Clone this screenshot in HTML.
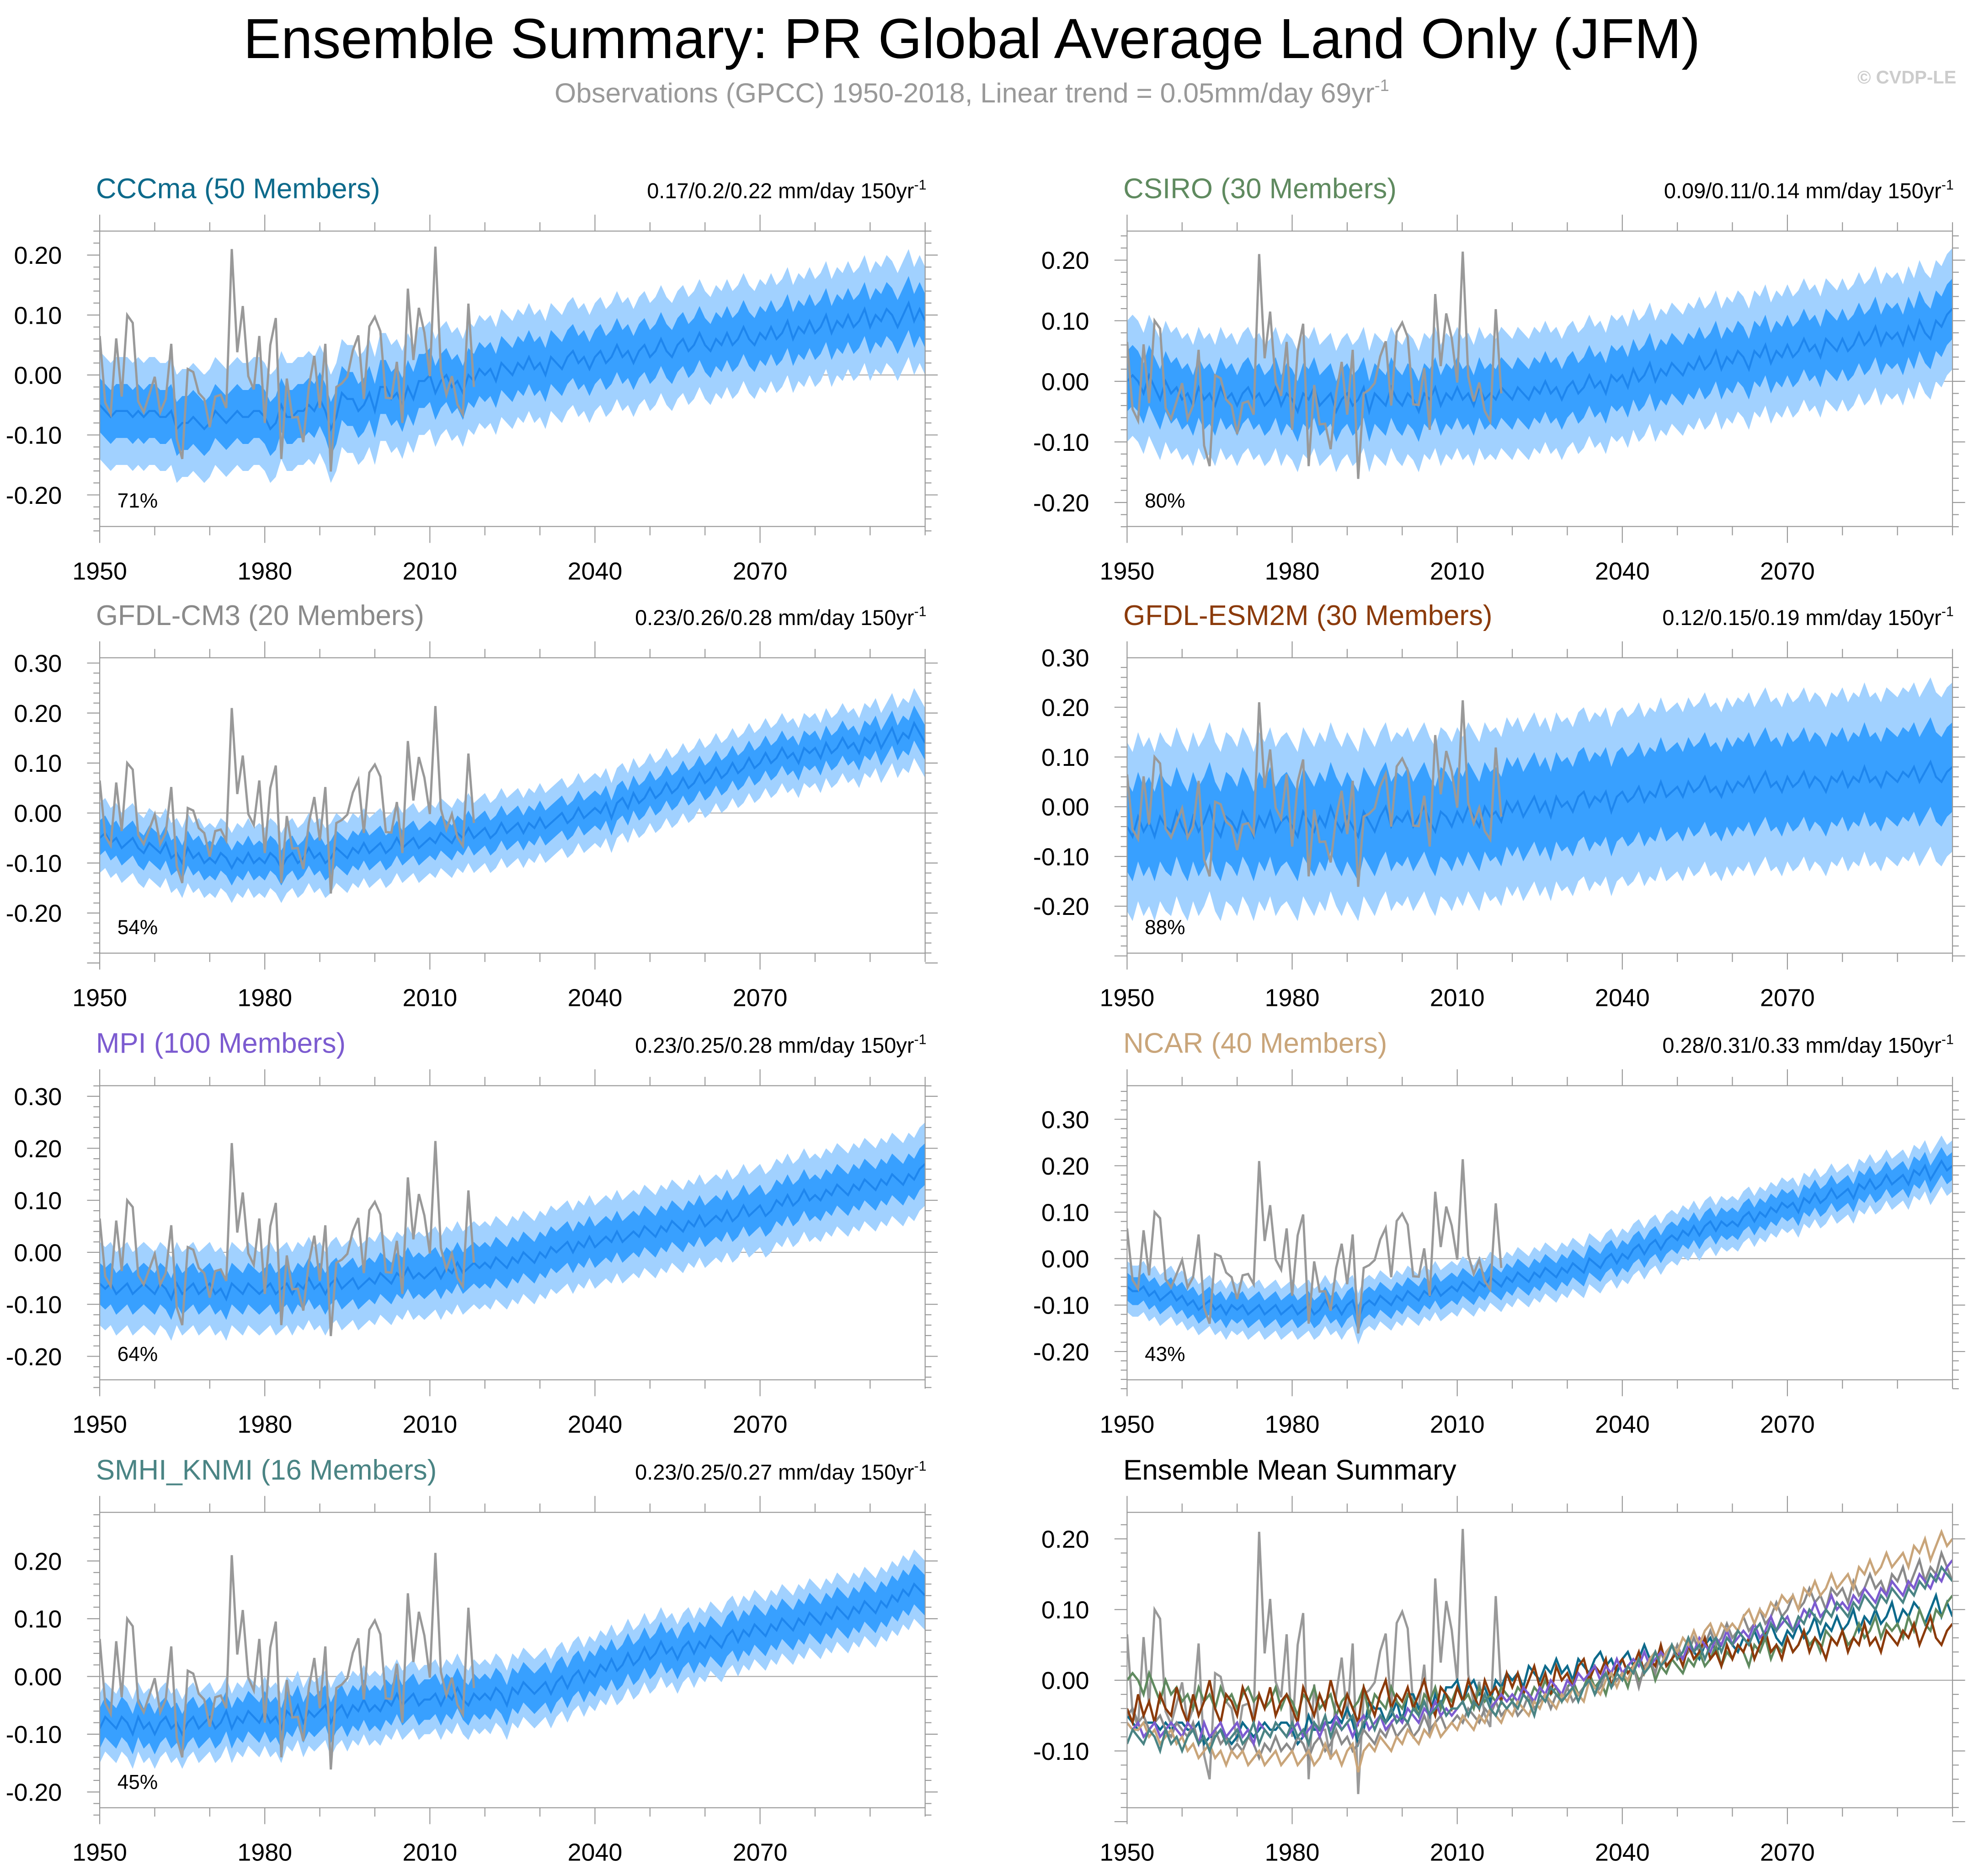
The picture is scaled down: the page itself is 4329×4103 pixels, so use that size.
<!DOCTYPE html>
<html><head><meta charset="utf-8"><title>Ensemble Summary</title>
<style>html,body{margin:0;padding:0;background:#fff}svg{display:block}text{font-family:"Liberation Sans",sans-serif}</style>
</head><body>
<svg id="fig" xmlns="http://www.w3.org/2000/svg" width="4329" height="4103" viewBox="0 0 1568 1486">
<rect x="0" y="0" width="1568" height="1486" fill="#fff"/>
<text x="770" y="46" font-size="44.8" text-anchor="middle" fill="#000">Ensemble Summary: PR Global Average Land Only (JFM)</text>
<text x="770" y="81" font-size="22" text-anchor="middle" fill="#999">Observations (GPCC) 1950-2018, Linear trend = 0.05mm/day 69yr<tspan font-size="13" dy="-9">-1</tspan></text>
<text x="1550" y="66" font-size="14.5" text-anchor="end" fill="#ccc" font-weight="bold">© CVDP-LE</text>
<g id="plots"></g>
</svg>
<script>
const years0 = 1950;
const obsVals = [0.065,-0.046,-0.065,0.061,-0.036,0.10,0.087,-0.044,-0.062,-0.033,-0.003,-0.062,-0.04,0.052,-0.106,-0.14,0.01,0.005,-0.03,-0.04,-0.087,-0.036,-0.033,-0.055,0.21,0.038,0.115,-0.002,-0.024,0.065,-0.08,0.05,0.095,-0.14,-0.006,-0.071,-0.07,-0.112,-0.02,0.032,-0.055,0.052,-0.161,-0.02,-0.014,-0.003,0.041,0.066,-0.04,0.081,0.097,0.073,-0.038,-0.039,0.022,-0.08,0.144,0.025,0.112,0.071,-0.002,0.214,0.008,-0.033,-0.002,-0.049,-0.066,0.119,-0.02];
const meanCCCma = [-0.05,-0.06,-0.07,-0.06,-0.06,-0.06,-0.07,-0.06,-0.07,-0.06,-0.06,-0.07,-0.07,-0.06,-0.09,-0.08,-0.08,-0.07,-0.08,-0.09,-0.08,-0.06,-0.07,-0.08,-0.07,-0.06,-0.07,-0.07,-0.06,-0.06,-0.07,-0.09,-0.08,-0.05,-0.07,-0.07,-0.06,-0.06,-0.05,-0.06,-0.04,-0.06,-0.09,-0.07,-0.03,-0.04,-0.04,-0.06,-0.05,-0.03,-0.06,-0.02,-0.02,-0.04,-0.03,-0.05,-0.02,-0.04,-0.01,-0.01,0.00,-0.03,-0.01,0.00,-0.02,-0.01,-0.03,0.00,-0.01,0.01,0.00,0.01,-0.01,0.02,0.01,0.00,0.02,0.01,0.03,0.01,0.02,0.00,0.03,0.02,0.01,0.03,0.04,0.02,0.03,0.01,0.03,0.04,0.02,0.03,0.05,0.03,0.04,0.02,0.04,0.05,0.03,0.04,0.06,0.04,0.03,0.05,0.06,0.04,0.05,0.07,0.05,0.04,0.06,0.05,0.07,0.05,0.06,0.08,0.06,0.05,0.07,0.06,0.08,0.06,0.07,0.09,0.06,0.08,0.07,0.09,0.07,0.08,0.10,0.07,0.09,0.08,0.10,0.08,0.09,0.11,0.08,0.10,0.09,0.11,0.10,0.08,0.10,0.12,0.09,0.11,0.09];
const meanCSIRO = [0.00,0.01,0.00,-0.02,0.01,-0.01,-0.03,0.00,-0.02,-0.01,-0.03,-0.02,-0.04,-0.01,-0.03,-0.02,-0.04,-0.01,-0.03,-0.02,-0.04,-0.02,-0.01,-0.03,-0.02,-0.04,-0.03,-0.01,-0.04,-0.02,-0.03,-0.05,-0.02,-0.03,-0.01,-0.04,-0.03,-0.02,-0.05,-0.03,-0.02,-0.04,-0.03,-0.01,-0.05,-0.02,-0.03,-0.04,-0.01,-0.03,-0.04,-0.02,-0.03,-0.05,-0.02,-0.03,-0.01,-0.04,-0.02,-0.03,-0.01,-0.03,-0.02,-0.04,-0.01,-0.03,-0.02,-0.03,-0.01,-0.02,-0.03,-0.01,-0.02,-0.03,-0.01,-0.02,0.00,-0.02,-0.01,-0.03,-0.01,0.00,-0.02,-0.01,0.01,-0.01,0.00,-0.02,0.01,0.00,0.01,-0.01,0.02,0.00,0.01,0.03,0.00,0.02,0.01,0.03,0.02,0.01,0.03,0.02,0.04,0.02,0.03,0.05,0.02,0.04,0.03,0.05,0.04,0.02,0.05,0.04,0.06,0.03,0.05,0.04,0.06,0.04,0.05,0.07,0.05,0.06,0.04,0.07,0.06,0.05,0.07,0.05,0.06,0.08,0.06,0.07,0.09,0.06,0.08,0.07,0.08,0.06,0.09,0.07,0.10,0.08,0.07,0.10,0.09,0.11,0.12];
const meanGFDLCM3 = [-0.05,-0.04,-0.06,-0.05,-0.07,-0.06,-0.05,-0.07,-0.08,-0.06,-0.07,-0.08,-0.06,-0.09,-0.08,-0.10,-0.07,-0.09,-0.08,-0.10,-0.09,-0.10,-0.08,-0.09,-0.11,-0.09,-0.10,-0.08,-0.10,-0.09,-0.10,-0.08,-0.09,-0.11,-0.09,-0.08,-0.10,-0.09,-0.07,-0.09,-0.08,-0.10,-0.09,-0.07,-0.08,-0.09,-0.07,-0.08,-0.06,-0.08,-0.07,-0.06,-0.08,-0.07,-0.05,-0.07,-0.06,-0.05,-0.07,-0.06,-0.05,-0.06,-0.04,-0.05,-0.06,-0.04,-0.05,-0.03,-0.05,-0.04,-0.03,-0.05,-0.04,-0.02,-0.04,-0.03,-0.02,-0.04,-0.02,-0.03,-0.01,-0.03,-0.02,-0.01,0.00,-0.02,-0.01,0.01,-0.01,0.00,0.01,0.00,0.02,-0.01,0.02,0.03,0.01,0.04,0.02,0.03,0.05,0.03,0.04,0.06,0.04,0.05,0.07,0.05,0.06,0.08,0.06,0.07,0.09,0.07,0.08,0.10,0.08,0.09,0.11,0.09,0.10,0.12,0.10,0.11,0.13,0.11,0.12,0.10,0.13,0.12,0.13,0.11,0.14,0.12,0.13,0.15,0.13,0.14,0.12,0.15,0.14,0.16,0.13,0.15,0.17,0.14,0.16,0.15,0.18,0.16,0.14];
const meanGFDLESM2M = [-0.04,-0.06,-0.02,-0.05,-0.03,-0.06,-0.02,-0.04,-0.05,-0.01,-0.04,-0.06,-0.02,-0.05,-0.03,0.00,-0.04,-0.06,-0.02,-0.03,-0.05,-0.01,-0.03,-0.06,-0.02,-0.04,-0.01,-0.05,-0.03,-0.02,-0.04,-0.06,-0.01,-0.03,-0.05,-0.02,-0.04,0.00,-0.03,-0.05,-0.02,-0.04,-0.06,-0.01,-0.03,-0.05,-0.02,0.00,-0.04,-0.02,-0.03,-0.01,-0.04,-0.02,0.00,-0.03,-0.05,-0.01,-0.02,-0.04,-0.01,-0.03,0.00,-0.02,-0.04,0.00,-0.02,-0.01,-0.03,0.01,-0.01,0.01,-0.02,0.00,0.02,-0.01,0.01,-0.02,0.02,0.00,0.01,-0.01,0.02,0.03,0.00,0.02,0.01,0.03,-0.01,0.02,0.03,0.01,0.02,0.04,0.01,0.03,0.02,0.05,0.02,0.03,0.04,0.02,0.05,0.03,0.04,0.06,0.03,0.04,0.02,0.05,0.03,0.05,0.04,0.06,0.03,0.05,0.07,0.04,0.05,0.03,0.06,0.04,0.05,0.07,0.04,0.06,0.05,0.03,0.06,0.05,0.07,0.04,0.06,0.05,0.08,0.05,0.06,0.04,0.07,0.06,0.05,0.07,0.06,0.08,0.05,0.07,0.09,0.06,0.05,0.07,0.08];
const meanMPI = [-0.06,-0.07,-0.06,-0.08,-0.07,-0.06,-0.08,-0.07,-0.06,-0.07,-0.08,-0.06,-0.07,-0.09,-0.06,-0.08,-0.07,-0.06,-0.08,-0.07,-0.06,-0.08,-0.07,-0.09,-0.06,-0.07,-0.08,-0.06,-0.07,-0.08,-0.07,-0.06,-0.08,-0.07,-0.06,-0.08,-0.06,-0.07,-0.05,-0.07,-0.06,-0.08,-0.06,-0.05,-0.07,-0.06,-0.05,-0.07,-0.06,-0.05,-0.06,-0.04,-0.05,-0.06,-0.04,-0.05,-0.03,-0.05,-0.04,-0.05,-0.04,-0.03,-0.05,-0.03,-0.04,-0.02,-0.04,-0.03,-0.02,-0.03,-0.02,-0.03,-0.01,-0.02,-0.03,-0.01,-0.02,0.00,-0.01,-0.02,0.00,-0.01,0.01,0.00,0.01,0.02,0.00,0.02,0.01,0.03,0.01,0.02,0.03,0.02,0.04,0.02,0.03,0.04,0.03,0.05,0.04,0.03,0.05,0.04,0.06,0.05,0.04,0.06,0.05,0.07,0.05,0.06,0.07,0.06,0.08,0.06,0.07,0.09,0.07,0.08,0.09,0.07,0.08,0.10,0.09,0.11,0.09,0.10,0.12,0.10,0.11,0.10,0.12,0.11,0.13,0.12,0.11,0.13,0.12,0.14,0.13,0.12,0.14,0.13,0.15,0.14,0.13,0.15,0.14,0.16,0.17];
const meanNCAR = [-0.06,-0.07,-0.07,-0.06,-0.08,-0.07,-0.09,-0.08,-0.07,-0.09,-0.08,-0.10,-0.09,-0.11,-0.10,-0.09,-0.11,-0.10,-0.12,-0.10,-0.11,-0.10,-0.12,-0.11,-0.10,-0.12,-0.11,-0.10,-0.12,-0.11,-0.10,-0.12,-0.11,-0.10,-0.12,-0.11,-0.09,-0.11,-0.10,-0.12,-0.10,-0.09,-0.13,-0.10,-0.09,-0.10,-0.08,-0.09,-0.10,-0.08,-0.09,-0.07,-0.08,-0.09,-0.07,-0.08,-0.06,-0.08,-0.07,-0.06,-0.07,-0.05,-0.06,-0.07,-0.05,-0.06,-0.04,-0.05,-0.06,-0.04,-0.05,-0.03,-0.04,-0.05,-0.03,-0.04,-0.02,-0.03,-0.04,-0.02,-0.03,-0.01,-0.02,-0.03,0.00,-0.01,-0.02,0.00,0.01,-0.01,0.01,0.00,0.02,0.03,0.01,0.03,0.04,0.02,0.04,0.05,0.04,0.06,0.05,0.07,0.05,0.07,0.08,0.06,0.08,0.07,0.08,0.07,0.09,0.10,0.08,0.10,0.09,0.11,0.10,0.12,0.11,0.12,0.10,0.13,0.12,0.14,0.12,0.13,0.15,0.13,0.14,0.15,0.13,0.16,0.15,0.17,0.15,0.16,0.18,0.16,0.17,0.18,0.16,0.19,0.18,0.20,0.17,0.19,0.21,0.19,0.20];
const meanSMHI = [-0.09,-0.07,-0.08,-0.09,-0.07,-0.08,-0.10,-0.07,-0.09,-0.08,-0.10,-0.08,-0.07,-0.09,-0.08,-0.10,-0.08,-0.07,-0.09,-0.08,-0.07,-0.09,-0.08,-0.06,-0.09,-0.07,-0.08,-0.06,-0.07,-0.08,-0.06,-0.08,-0.07,-0.09,-0.06,-0.07,-0.05,-0.08,-0.06,-0.07,-0.06,-0.05,-0.08,-0.06,-0.05,-0.07,-0.05,-0.06,-0.04,-0.06,-0.05,-0.06,-0.04,-0.05,-0.03,-0.05,-0.04,-0.03,-0.05,-0.04,-0.04,-0.03,-0.05,-0.03,-0.04,-0.02,-0.04,-0.05,-0.03,-0.04,-0.03,-0.04,-0.02,-0.03,-0.05,-0.02,-0.03,-0.01,-0.02,-0.03,-0.02,-0.01,-0.03,-0.01,0.00,-0.02,0.00,0.01,-0.01,0.01,0.00,0.02,0.01,0.03,0.01,0.02,0.04,0.02,0.03,0.05,0.03,0.04,0.06,0.04,0.05,0.03,0.05,0.06,0.04,0.06,0.05,0.07,0.06,0.05,0.07,0.08,0.06,0.08,0.07,0.09,0.08,0.07,0.09,0.08,0.10,0.09,0.08,0.10,0.09,0.11,0.10,0.09,0.11,0.10,0.12,0.11,0.10,0.12,0.11,0.13,0.12,0.11,0.13,0.12,0.14,0.13,0.15,0.14,0.16,0.15,0.14];
const modelNames = ["CCCma (50 Members)","CSIRO (30 Members)","GFDL-CM3 (20 Members)","GFDL-ESM2M (30 Members)","MPI (100 Members)","NCAR (40 Members)","SMHI_KNMI (16 Members)"];
const trendLabels = ["0.17/0.2/0.22","0.09/0.11/0.14","0.23/0.26/0.28","0.12/0.15/0.19","0.23/0.25/0.28","0.28/0.31/0.33","0.23/0.25/0.27"];
const pctLabels = ["71%","80%","54%","88%","64%","43%","45%"];
const innerSpread = [0.045,0.05,0.035,0.09,0.04,0.03,0.035];
const outerSpread = [0.09,0.10,0.07,0.17,0.08,0.055,0.06];
const xTickYears = [1950,1980,2010,2040,2070];
const allMeans = [meanCCCma,meanCSIRO,meanGFDLCM3,meanGFDLESM2M,meanMPI,meanNCAR,meanSMHI];

// layout (styling, not data)
const titleColors = ["#0d6a8b","#5f8a5f","#8a8a8a","#8b3a0a","#7c5bd0","#c9a57a","#4a8484"];
const lineColors = ["#0d6a8b","#5f8a5f","#8a8a8a","#8b3a0a","#7c5bd0","#c9a57a","#4a8484"];
const panels = [
 {x0:79,x1:733,y0:183,y1:417,zero:297,p01:47.5,ticks:[-0.2,-0.1,0,0.1,0.2]},
 {x0:893,x1:1547,y0:183,y1:417,zero:302,p01:48,ticks:[-0.2,-0.1,0,0.1,0.2]},
 {x0:79,x1:733,y0:521,y1:755,zero:644,p01:39.6,ticks:[-0.2,-0.1,0,0.1,0.2,0.3]},
 {x0:893,x1:1547,y0:521,y1:755,zero:639,p01:39.4,ticks:[-0.2,-0.1,0,0.1,0.2,0.3]},
 {x0:79,x1:733,y0:860,y1:1093,zero:992,p01:41.2,ticks:[-0.2,-0.1,0,0.1,0.2,0.3]},
 {x0:893,x1:1547,y0:860,y1:1093,zero:997,p01:36.8,ticks:[-0.2,-0.1,0,0.1,0.2,0.3]},
 {x0:79,x1:733,y0:1198,y1:1432,zero:1328,p01:45.75,ticks:[-0.2,-0.1,0,0.1,0.2]},
 {x0:893,x1:1547,y0:1198,y1:1432,zero:1331,p01:56,ticks:[-0.1,0,0.1,0.2]}
];
const NS="http://www.w3.org/2000/svg";
const root=document.getElementById('plots');
function mk(tag,attrs,parent){const e=document.createElementNS(NS,tag);for(const k in attrs)e.setAttribute(k,attrs[k]);(parent||root).appendChild(e);return e;}
function fmt(v){return (v<0?"-":"")+Math.abs(v).toFixed(2);}

panels.forEach((P,pi)=>{
  const g=mk('g',{});
  
  
  const X=yr=>P.x0+(yr-1950)*(P.x1-P.x0)/150;
  const Y=v=>P.zero-v*P.p01*10;
  const cid='clip'+pi;
  const cp=mk('clipPath',{id:cid},g);mk('rect',{x:P.x0,y:P.y0,width:P.x1-P.x0,height:P.y1-P.y0},cp);
  const plot=mk('g',{'clip-path':'url(#'+cid+')'},g);
  
  
  const zl=mk('line',{x1:P.x0,x2:P.x1,y1:Y(0),y2:Y(0),stroke:'#aaa','stroke-width':0.8},plot);
  
  
  const band=(arr,s)=>{let up=[],dn=[];arr.forEach((v,i)=>{up.push(X(1950+i).toFixed(2)+','+Y(v+s).toFixed(2));});for(let i=arr.length-1;i>=0;i--)dn.push(X(1950+i).toFixed(2)+','+Y(arr[i]-s).toFixed(2));return up.concat(dn).join(' ');};
  const line=(arr)=>arr.map((v,i)=>X(1950+i).toFixed(2)+','+Y(v).toFixed(2)).join(' ');
  if(pi<7){
    const m=allMeans[pi];
    const ob=mk('polygon',{points:band(m,outerSpread[pi]),fill:'#a1d1ff'},plot);
    
    
    const ib=mk('polygon',{points:band(m,innerSpread[pi]),fill:'#38a0ff'},plot);
    
    
    const ml=mk('polyline',{points:line(m),fill:'none',stroke:'#1e86ee','stroke-width':1.6},plot);
    
    
    const ol=mk('polyline',{points:line(obsVals),fill:'none',stroke:'#999','stroke-width':1.8},plot);
    
    
  } else {
    const ol=mk('polyline',{points:line(obsVals),fill:'none',stroke:'#999','stroke-width':1.8},plot);
    
    
    allMeans.forEach((m,k)=>{
      const l=mk('polyline',{points:line(m),fill:'none',stroke:lineColors[k],'stroke-width':1.8},plot);
      
      
    });
  }
  const fr=mk('rect',{x:P.x0,y:P.y0,width:P.x1-P.x0,height:P.y1-P.y0,fill:'none',stroke:'#999','stroke-width':0.8},g);
  
  
  for(let yr=1950;yr<=2100;yr+=10){
    const major=xTickYears.includes(yr);const L=major?13:7;const x=X(yr);
    mk('line',{x1:x,x2:x,y1:P.y1,y2:P.y1+L,stroke:'#999','stroke-width':0.8},g);
    mk('line',{x1:x,x2:x,y1:P.y0,y2:P.y0-L,stroke:'#999','stroke-width':0.8},g);
  }
  xTickYears.forEach(yr=>{
    const t=mk('text',{x:X(yr),y:P.y1+42,'font-size':19.5,'text-anchor':'middle',fill:'#000'},g);
    t.textContent=yr;
    
    
  });
  const lo=(P.zero-P.y1)/(P.p01*10),hi=(P.zero-P.y0)/(P.p01*10);
  for(let k=Math.ceil(-lo*50-1e-6)*-1;k<=Math.floor(hi*50+1e-6);k++){
    const v=k/50;const major=Math.abs(k%5)===0;const L=major?10:5;const y=Y(v);
    mk('line',{x1:P.x0,x2:P.x0-L,y1:y,y2:y,stroke:'#999','stroke-width':0.8},g);
    mk('line',{x1:P.x1,x2:P.x1+L,y1:y,y2:y,stroke:'#999','stroke-width':0.8},g);
  }
  P.ticks.forEach(v=>{
    const t=mk('text',{x:P.x0-30,y:Y(v)+7,'font-size':19.5,'text-anchor':'end',fill:'#000'},g);
    t.textContent=fmt(v);
    
    
  });
  const tt=mk('text',{x:P.x0-3,y:P.y0-26,'font-size':22.4,fill:pi<7?titleColors[pi]:'#000'},g);
  tt.textContent=pi<7?modelNames[pi]:'Ensemble Mean Summary';
  
  
  if(pi<7){
    const tr=mk('text',{x:P.x1+1,y:P.y0-26,'font-size':17,'text-anchor':'end',fill:'#000'},g);
    tr.innerHTML=trendLabels[pi]+' mm/day 150yr<tspan font-size="11" dy="-7">-1</tspan>';
    
    
    const pc=mk('text',{x:P.x0+14,y:P.y1-15,'font-size':16,fill:'#000'},g);
    pc.textContent=pctLabels[pi];
    
    
  }
});
</script>
</body></html>
